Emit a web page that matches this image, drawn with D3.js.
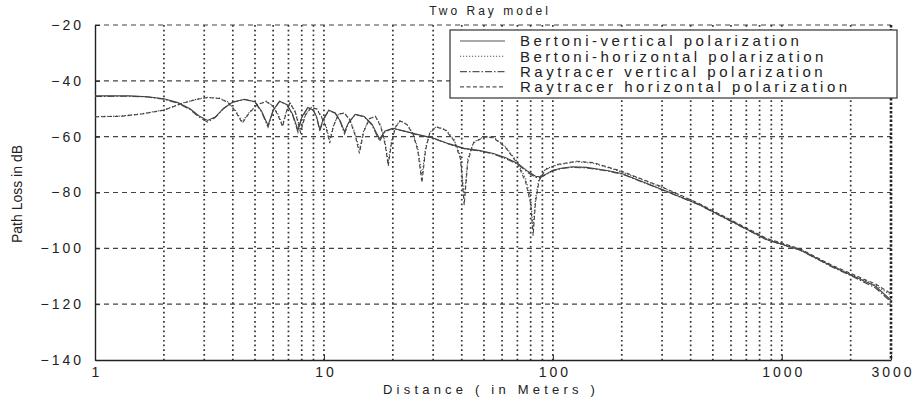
<!DOCTYPE html>
<html>
<head>
<meta charset="utf-8">
<script src="https://cdn.jsdelivr.net/npm/d3@7"></script>
<style>
  body { margin: 0; background: #fff; }
  svg text { font-family: "Liberation Sans", Arial, sans-serif; fill: #222; }
  .tick text { font-size: 14px; letter-spacing: 3px; }
</style>
</head>
<body>
<svg id="chart"></svg>
<script>
// distances in meters, losses in dB
const distV = [1, 1.4, 1.7, 2.0, 2.3, 2.6, 2.85, 3.1, 3.35, 3.65, 4.0, 4.5, 5.0, 5.35, 5.7,
  6.0, 6.4, 6.9, 7.3, 7.7, 8.0, 8.5, 9.0, 9.3, 9.6, 9.9, 10.5, 11.2, 11.8, 12.3,
  12.8, 13.7, 15.0, 16.2, 17.5, 18.5, 20, 22, 25, 30, 35, 41, 48, 55, 62,
  70, 78, 84, 88, 93, 100, 110, 122, 140, 170, 200, 300, 437, 608, 857,
  1204, 1670, 2040, 2570, 3000];
const bertoniV = [-45.4, -45.4, -45.7, -46.4, -47.8, -50.0, -52.6, -54.2, -53.0, -49.8, -47.6, -46.6, -47.5, -51.0, -56.0,
  -50.5, -47.3, -48.5, -52.0, -57.6, -53.0, -49.5, -50.5, -53.0, -57.5, -54.0, -50.5, -51.5, -54.5, -58.2,
  -55.0, -52.0, -52.8, -55.5, -60.8, -58.0, -57.0, -57.8, -59.0, -60.5, -62.5, -64.2, -65.0, -66.0, -67.5,
  -69.5, -72.5, -74.2, -74.4, -73.5, -72.0, -71.2, -70.8, -71.0, -72.0, -73.2, -78.9, -84.4, -90.5, -96.8,
  -100.6, -106.6, -109.8, -113.6, -118.6];
const raytracerV = [-45.6, -45.5, -45.8, -46.6, -48.0, -50.3, -53.0, -54.8, -53.2, -49.9, -47.7, -46.7, -47.6, -51.3, -56.6,
  -50.7, -47.4, -48.6, -52.3, -58.4, -53.2, -49.6, -50.6, -53.3, -58.1, -54.2, -50.6, -51.6, -54.8, -59.0,
  -55.2, -52.1, -52.9, -55.8, -61.6, -58.2, -57.1, -57.9, -59.1, -60.6, -62.6, -64.3, -65.1, -66.2, -67.8,
  -69.8, -72.9, -74.6, -74.7, -73.7, -72.2, -71.4, -71.0, -71.2, -72.2, -73.4, -79.0, -84.5, -90.6, -96.9,
  -100.7, -106.8, -110.1, -114.2, -119.2];

const distH = [1, 1.3, 1.6, 2.0, 2.4, 2.8, 3.1, 3.5, 3.8, 4.1, 4.4, 4.7, 5.1, 5.6, 6.0,
  6.3, 6.6, 6.85, 7.1, 7.5, 7.9, 8.3, 8.8, 9.3, 9.8, 10.2, 10.6, 11.0, 11.6, 12.3,
  13.0, 13.7, 14.3, 14.9, 15.8, 16.8, 17.7, 18.5, 19.1, 19.7, 20.5, 21.5, 23, 24.5, 25.7,
  26.8, 27.8, 29, 31, 34, 37, 39.5, 41, 42.5, 45, 50, 55, 62, 70, 76,
  80, 82, 84, 87, 93, 104, 127, 150, 200, 302, 437, 608, 857, 1204, 1670,
  2040, 2570, 3000];
const bertoniH = [-52.8, -52.6, -51.8, -50.4, -48.0, -46.5, -45.9, -46.2, -47.5, -50.5, -54.6, -51.5, -48.5, -47.3, -49.0,
  -52.0, -55.7, -51.0, -47.8, -51.0, -57.6, -52.0, -49.5, -50.0, -53.0, -56.0, -61.1, -56.0, -51.8, -51.5,
  -54.0, -59.0, -64.7, -58.0, -53.5, -52.7, -56.0, -62.0, -68.9, -62.0, -56.5, -54.3, -55.5, -58.8, -64.0,
  -74.0, -64.0, -58.5, -56.4, -57.5, -61.0, -67.0, -82.0, -68.0, -62.0, -60.0, -60.2, -63.5, -69.0, -75.0,
  -82.0, -93.0, -82.0, -75.0, -71.5, -70.2, -69.0, -69.5, -72.6, -78.3, -84.2, -90.3, -96.6, -100.4, -106.4,
  -109.6, -113.2, -116.8];
const raytracerH = [-52.9, -52.7, -51.9, -50.5, -48.1, -46.6, -46.0, -46.3, -47.7, -50.8, -55.2, -51.7, -48.6, -47.4, -49.2,
  -52.4, -56.4, -51.2, -47.9, -51.3, -58.5, -52.3, -49.6, -50.1, -53.3, -56.5, -62.3, -56.3, -51.9, -51.6,
  -54.2, -59.6, -66.0, -58.4, -53.6, -52.8, -56.3, -62.8, -70.5, -62.6, -56.7, -54.4, -55.6, -59.2, -65.0,
  -76.5, -64.8, -58.7, -56.5, -57.7, -61.4, -68.0, -84.5, -69.0, -62.3, -60.1, -60.4, -63.8, -69.6, -76.2,
  -84.0, -95.5, -83.5, -75.8, -71.8, -70.0, -68.8, -69.3, -72.4, -78.1, -84.0, -90.1, -96.4, -100.2, -106.2,
  -109.3, -112.8, -116.2];

const seriesNames = ["Bertoni-vertical polarization", "Bertoni-horizontal polarization",
  "Raytracer vertical polarization", "Raytracer horizontal polarization"];
const xTickLabels = [1, 10, 100, 1000, 3000];
const yTickLabels = [-140, -120, -100, -80, -60, -40, -20];

const width = 917;
const height = 400;
const margin = {top: 25, right: 26, bottom: 40, left: 95};

const svg = d3.select("#chart")
  .attr("width", width)
  .attr("height", height);

const x = d3.scaleLog()
  .domain([1, 3000])
  .range([margin.left, width - margin.right]);

const y = d3.scaleLinear()
  .domain([-140, -20])
  .range([height - margin.bottom, margin.top]);

// grid: dotted verticals at every log tick, dashed horizontals
svg.append("g")
  .selectAll("line")
  .data(x.ticks().filter(d => d > 1 && d < 3000))
  .join("line")
  .attr("x1", d => x(d)).attr("x2", d => x(d))
  .attr("y1", y(-20)).attr("y2", y(-140))
  .attr("stroke", "#333")
  .attr("stroke-width", 1.7)
  .attr("stroke-dasharray", "1.7,3");

svg.append("g")
  .selectAll("line")
  .data(yTickLabels.filter(d => d > -140))
  .join("line")
  .attr("x1", x(1)).attr("x2", x(3000))
  .attr("y1", d => y(d)).attr("y2", d => y(d))
  .attr("stroke", "#444")
  .attr("stroke-width", 1.1)
  .attr("stroke-dasharray", "5,4");

// heavy dotted right edge at 3000
svg.append("line")
  .attr("x1", x(3000)).attr("x2", x(3000))
  .attr("y1", y(-20)).attr("y2", y(-140))
  .attr("stroke", "#222")
  .attr("stroke-width", 2.6)
  .attr("stroke-dasharray", "2.5,1.8");

// axes
const xAxis = svg.append("g")
  .attr("transform", `translate(0,${y(-140)})`)
  .call(d3.axisBottom(x)
    .tickValues(xTickLabels)
    .tickFormat(d3.format("d"))
    .tickSizeInner(-5)
    .tickSizeOuter(0)
    .tickPadding(7));

const yAxis = svg.append("g")
  .attr("transform", `translate(${x(1)},0)`)
  .call(d3.axisLeft(y)
    .tickValues(yTickLabels)
    .tickSizeInner(-5)
    .tickSizeOuter(0)
    .tickPadding(14));

svg.selectAll(".domain").attr("stroke", "#222").attr("stroke-width", 1.4);
svg.selectAll(".tick line").attr("stroke", "#222");
xAxis.selectAll(".tick text").attr("dx", "1.5px");
yAxis.selectAll(".tick text").attr("dx", "3px");

// curves
const line = d3.line()
  .x(d => x(d[0]))
  .y(d => y(d[1]));

const curves = [
  {dist: distV, loss: bertoniV, dash: null},
  {dist: distH, loss: bertoniH, dash: "1.2,1.8"},
  {dist: distV, loss: raytracerV, dash: "7,2,1.5,2"},
  {dist: distH, loss: raytracerH, dash: "4,2.5"}
];

svg.append("g")
  .selectAll("path")
  .data(curves)
  .join("path")
  .attr("d", c => line(c.dist.map((d, i) => [d, c.loss[i]])))
  .attr("fill", "none")
  .attr("stroke", "#444")
  .attr("stroke-width", 1.1)
  .attr("stroke-dasharray", c => c.dash);

// legend
const legend = svg.append("g").attr("transform", "translate(450,30)");
legend.append("rect")
  .attr("width", 447)
  .attr("height", 68)
  .attr("fill", "#fff")
  .attr("stroke", "#333")
  .attr("stroke-width", 1.2);

const rows = legend.selectAll("g.row")
  .data(seriesNames)
  .join("g")
  .attr("class", "row")
  .attr("transform", (d, i) => `translate(0,${11 + i * 15.3})`);

rows.append("line")
  .attr("x1", 10).attr("x2", 55)
  .attr("stroke", "#555")
  .attr("stroke-width", 1.1)
  .attr("stroke-dasharray", (d, i) => curves[i].dash);

rows.append("text")
  .attr("x", 70)
  .attr("dy", "0.35em")
  .style("font-size", "15px")
  .style("letter-spacing", "3.5px")
  .text(d => d);

// title and axis labels
svg.append("text")
  .attr("x", 490).attr("y", 15)
  .attr("text-anchor", "middle")
  .style("font-size", "12px")
  .style("letter-spacing", "3px")
  .text("Two Ray model");

svg.append("text")
  .attr("x", 491).attr("y", 394)
  .attr("text-anchor", "middle")
  .style("font-size", "13px")
  .style("letter-spacing", "4.2px")
  .text("Distance ( in Meters )");

svg.append("text")
  .attr("transform", "translate(22,194) rotate(-90)")
  .attr("text-anchor", "middle")
  .style("font-family", "'Liberation Sans Narrow', 'Liberation Sans', sans-serif")
  .style("font-size", "14px")
  .text("Path Loss in dB");
</script>
</body>
</html>
